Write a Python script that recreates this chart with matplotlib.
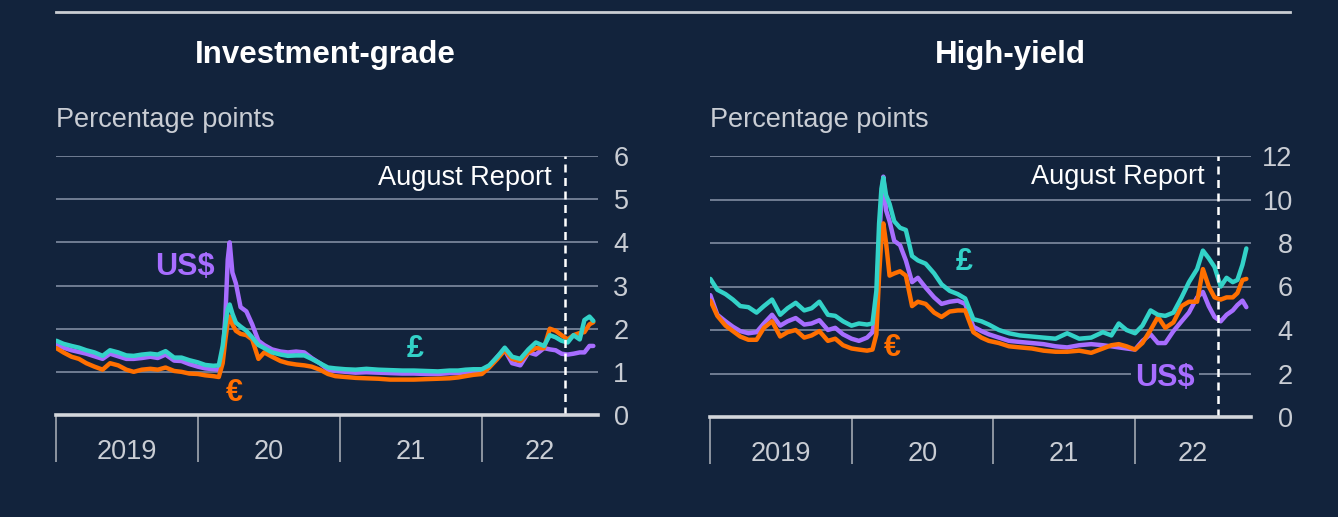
import matplotlib
matplotlib.use("Agg")
import matplotlib.pyplot as plt
from matplotlib.lines import Line2D
import pandas as pd

plt.rcParams['font.family'] = ['Liberation Sans', 'DejaVu Sans']

# ---- data ----
dates = [
    '2019-01-02', '2019-01-20', '2019-02-10', '2019-03-01', '2019-03-20', '2019-04-10', '2019-05-01', '2019-05-20', '2019-06-10', '2019-07-01',
    '2019-07-20', '2019-08-10', '2019-09-01', '2019-09-20', '2019-10-10', '2019-11-01', '2019-11-20', '2019-12-10', '2020-01-01', '2020-01-20',
    '2020-02-10', '2020-02-24', '2020-03-05', '2020-03-12', '2020-03-18', '2020-03-23', '2020-03-30', '2020-04-08', '2020-04-20', '2020-05-05',
    '2020-05-20', '2020-06-05', '2020-06-20', '2020-07-10', '2020-08-01', '2020-08-20', '2020-09-10', '2020-10-01', '2020-10-20', '2020-11-10',
    '2020-12-01', '2020-12-20', '2021-01-15', '2021-02-10', '2021-03-10', '2021-04-10', '2021-05-10', '2021-06-10', '2021-07-10', '2021-08-10',
    '2021-09-10', '2021-10-10', '2021-11-01', '2021-11-20', '2021-12-10', '2022-01-01', '2022-01-20', '2022-02-10', '2022-03-01', '2022-03-20',
    '2022-04-10', '2022-05-01', '2022-05-20', '2022-06-10', '2022-06-25', '2022-07-10', '2022-07-25', '2022-08-10', '2022-08-25', '2022-09-10',
    '2022-09-22', '2022-10-05', '2022-10-15']

ig_usd = [1.62, 1.56, 1.50, 1.46, 1.42, 1.36, 1.30, 1.42, 1.36, 1.30,
          1.30, 1.32, 1.35, 1.32, 1.40, 1.26, 1.25, 1.18, 1.12, 1.08,
          1.06, 1.05, 1.40, 2.30, 3.60, 4.00, 3.30, 3.05, 2.50, 2.40,
          2.10, 1.72, 1.62, 1.52, 1.47, 1.45, 1.47, 1.45, 1.32, 1.20,
          1.05, 1.02, 1.00, 0.98, 0.99, 0.98, 0.97, 0.96, 0.96, 0.95,
          0.95, 0.97, 0.97, 0.99, 1.00, 1.02, 1.12, 1.35, 1.50, 1.20,
          1.15, 1.45, 1.40, 1.55, 1.52, 1.50, 1.42, 1.40, 1.42, 1.45,
          1.45, 1.60, 1.60]
ig_eur = [1.55, 1.45, 1.35, 1.30, 1.20, 1.12, 1.05, 1.20, 1.15, 1.05,
          1.00, 1.05, 1.07, 1.05, 1.10, 1.02, 1.00, 0.96, 0.95, 0.92,
          0.90, 0.88, 1.20, 1.75, 2.15, 2.28, 2.10, 1.95, 1.88, 1.85,
          1.75, 1.30, 1.45, 1.35, 1.25, 1.20, 1.17, 1.15, 1.12, 1.05,
          0.95, 0.90, 0.88, 0.86, 0.85, 0.84, 0.82, 0.82, 0.82, 0.83,
          0.84, 0.85, 0.87, 0.90, 0.93, 0.95, 1.10, 1.30, 1.50, 1.30,
          1.25, 1.45, 1.55, 1.55, 2.00, 1.95, 1.85, 1.75, 1.85, 1.90,
          1.92, 2.10, 2.15]
ig_gbp = [1.72, 1.65, 1.60, 1.56, 1.50, 1.45, 1.37, 1.50, 1.45, 1.38,
          1.37, 1.40, 1.42, 1.40, 1.48, 1.33, 1.33, 1.27, 1.22, 1.16,
          1.14, 1.15, 1.60, 2.10, 2.45, 2.56, 2.35, 2.14, 2.05, 1.95,
          1.80, 1.62, 1.55, 1.45, 1.40, 1.37, 1.38, 1.38, 1.30, 1.20,
          1.10, 1.08, 1.06, 1.05, 1.07, 1.05, 1.04, 1.03, 1.03, 1.02,
          1.01, 1.03, 1.03, 1.05, 1.06, 1.06, 1.15, 1.35, 1.56, 1.35,
          1.30, 1.52, 1.68, 1.60, 1.85, 1.80, 1.72, 1.68, 1.85, 1.75,
          2.20, 2.28, 2.18]

hy_usd = [5.60, 4.70, 4.40, 4.15, 3.95, 3.85, 3.90, 4.30, 4.70, 4.20,
          4.40, 4.55, 4.25, 4.30, 4.45, 4.00, 4.10, 3.80, 3.60, 3.50,
          3.65, 3.90, 5.00, 8.00, 10.00, 11.05, 9.50, 9.00, 8.10, 7.90,
          7.20, 6.20, 6.40, 5.95, 5.50, 5.20, 5.30, 5.35, 5.20, 4.15,
          3.95, 3.80, 3.65, 3.50, 3.45, 3.40, 3.35, 3.25, 3.20, 3.30,
          3.35, 3.30, 3.25, 3.20, 3.15, 3.10, 3.50, 3.80, 3.40, 3.40,
          3.95, 4.40, 4.80, 5.50, 5.75, 5.10, 4.60, 4.40, 4.70, 4.90,
          5.15, 5.35, 5.05]
hy_eur = [5.35, 4.65, 4.20, 3.95, 3.70, 3.55, 3.55, 4.10, 4.40, 3.70,
          3.90, 4.00, 3.65, 3.75, 3.95, 3.50, 3.60, 3.30, 3.15, 3.10,
          3.05, 3.10, 3.80, 6.50, 8.20, 8.90, 8.00, 6.50, 6.60, 6.70,
          6.50, 5.10, 5.30, 5.20, 4.80, 4.60, 4.85, 4.90, 4.90, 3.90,
          3.65, 3.50, 3.40, 3.25, 3.20, 3.15, 3.05, 3.00, 3.00, 3.05,
          2.95, 3.15, 3.30, 3.35, 3.25, 3.10, 3.40, 4.00, 4.60, 4.10,
          4.35, 5.10, 5.30, 5.30, 6.80, 6.00, 5.50, 5.40, 5.50, 5.50,
          5.70, 6.30, 6.35]
hy_gbp = [6.35, 5.85, 5.65, 5.40, 5.10, 5.05, 4.80, 5.10, 5.40, 4.70,
          5.00, 5.25, 4.90, 5.00, 5.30, 4.70, 4.65, 4.40, 4.20, 4.30,
          4.25, 4.30, 5.80, 8.90, 10.50, 11.00, 10.20, 9.80, 9.00, 8.70,
          8.60, 7.40, 7.20, 7.05, 6.60, 6.10, 5.80, 5.65, 5.45, 4.50,
          4.40, 4.25, 4.00, 3.85, 3.75, 3.70, 3.65, 3.60, 3.85, 3.60,
          3.65, 3.90, 3.75, 4.30, 4.00, 3.85, 4.20, 4.90, 4.70, 4.65,
          4.80, 5.50, 6.20, 6.80, 7.65, 7.30, 6.90, 6.00, 6.40, 6.20,
          6.30, 7.00, 7.75]

year_starts = ['2019-01-01', '2020-01-01', '2021-01-01', '2022-01-01']
year_labels = ['2019', '20', '21', '22']
x_end = '2022-10-27'
august_report = '2022-08-04'

# ---- style ----
BG = '#12233c'
GRID = '#77849a'
LIGHT = '#c9cdd4'
C_USD = '#a76dff'
C_EUR = '#ff6f00'
C_GBP = '#33d2c8'
FS = 19.5
LW = 3.2

d = pd.to_datetime(dates)
ys = pd.to_datetime(year_starts)
xend = pd.Timestamp(x_end)
aug = pd.Timestamp(august_report)
bounds = list(ys) + [xend]
mids = [bounds[i] + (bounds[i + 1] - bounds[i]) / 2 for i in range(len(ys))]

W, H = 1338, 517
fig = plt.figure(figsize=(W / 100, H / 100), dpi=100, facecolor=BG)


def px_box(x0, x1, ytop, ybot):
    return [x0 / W, 1 - ybot / H, (x1 - x0) / W, (ybot - ytop) / H]


def setup(ax, ymax, ystep, label_pad):
    ax.set_facecolor(BG)
    ax.set_xlim(ys[0], xend)
    ax.set_ylim(0, ymax)
    for s in ['top', 'left', 'right']:
        ax.spines[s].set_visible(False)
    ax.spines['bottom'].set_color('#d3d6db')
    ax.spines['bottom'].set_linewidth(2.6)
    ax.spines['bottom'].set_zorder(5)
    ax.set_yticks(range(0, ymax + 1, ystep))
    ax.yaxis.tick_right()
    ax.tick_params(axis='y', length=0, labelsize=FS, labelcolor=LIGHT, pad=label_pad)
    for t in ax.get_yticklabels():
        t.set_horizontalalignment('right')
    ax.yaxis.grid(True, color=GRID, lw=1.3)
    ax.set_axisbelow(True)
    ax.set_xticks(ys)
    ax.set_xticklabels([])
    ax.set_xticks(mids, minor=True)
    ax.set_xticklabels(year_labels, minor=True)
    ax.tick_params(axis='x', which='major', length=34, width=1.1, color='#aeb3bb', direction='out')
    ax.tick_params(axis='x', which='minor', length=0, pad=17, labelsize=FS, labelcolor=LIGHT)
    ax.axvline(aug, color='white', lw=1.8, ls=(0, (3.2, 2.2)), zorder=4)


def draw(ax, usd, eur, gbp):
    for vals, col in [(usd, C_USD), (eur, C_EUR), (gbp, C_GBP)]:
        ax.plot(d, vals, color=col, lw=LW, solid_joinstyle='round', solid_capstyle='round', zorder=3)


# Investment-grade
ax1 = fig.add_axes(px_box(56, 598, 156, 415))
setup(ax1, 6, 1, 22)
draw(ax1, ig_usd, ig_eur, ig_gbp)
ax1.annotate('August Report', xy=(aug, 5.5), xytext=(-10, 0), textcoords='offset points',
             ha='right', va='center', color='white', fontsize=FS)
lbl = dict(fontsize=22, fontweight='bold', ha='center', va='center')
ax1.text(pd.Timestamp('2019-11-28'), 3.43, 'US$', color=C_USD, **lbl)
ax1.text(pd.Timestamp('2020-04-03'), 0.51, '€', color=C_EUR, **lbl)
ax1.text(pd.Timestamp('2021-07-14'), 1.53, '£', color=C_GBP, **lbl)

# High-yield
ax2 = fig.add_axes(px_box(710, 1251, 156, 417))
setup(ax2, 12, 2, 30)
draw(ax2, hy_usd, hy_eur, hy_gbp)
ax2.annotate('August Report', xy=(aug, 11.03), xytext=(-10, 0), textcoords='offset points',
             ha='right', va='center', color='white', fontsize=FS)
ax2.text(pd.Timestamp('2020-10-18'), 7.13, '£', color=C_GBP, **lbl)
ax2.text(pd.Timestamp('2020-04-16'), 3.17, '€', color=C_EUR, **lbl)
ax2.text(pd.Timestamp('2022-03-20'), 1.79, 'US$', color=C_USD,
         bbox=dict(facecolor=BG, edgecolor='none', pad=3), zorder=6, **lbl)

# titles and units
fig.text(325 / W, 1 - 55 / H, 'Investment-grade', ha='center', va='center',
         color='white', fontsize=22.5, fontweight='bold')
fig.text(1010 / W, 1 - 55 / H, 'High-yield', ha='center', va='center',
         color='white', fontsize=22.5, fontweight='bold')
fig.text(56 / W, 1 - 120 / H, 'Percentage points', ha='left', va='center', color=LIGHT, fontsize=FS)
fig.text(710 / W, 1 - 120 / H, 'Percentage points', ha='left', va='center', color=LIGHT, fontsize=FS)
fig.add_artist(Line2D([56 / W, 1290 / W], [1 - 12 / H, 1 - 12 / H], color='#c9cdd3', lw=2))

fig.savefig('out.png', dpi=100, facecolor=BG)
